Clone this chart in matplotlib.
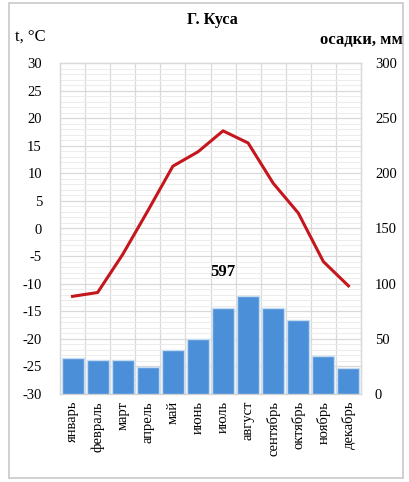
import numpy as np
import matplotlib
matplotlib.use("Agg")
import matplotlib.pyplot as plt
from matplotlib.patches import Rectangle

plt.rcParams["font.family"] = ["Liberation Serif", "DejaVu Serif"]
plt.rcParams["axes.unicode_minus"] = False

months = ["январь", "февраль", "март", "апрель", "май", "июнь",
          "июль", "август", "сентябрь", "октябрь", "ноябрь", "декабрь"]
temp = [-12.3, -11.6, -4.7, 3.2, 11.3, 13.9, 17.7, 15.5, 8.2, 2.8, -6.0, -10.4]
precip = [33, 31, 31, 24.5, 40, 50, 78, 89, 78, 67, 34, 24]
annual_precip = 597

x = np.arange(len(months))

fig = plt.figure(figsize=(4.09, 4.82), dpi=100)
# outer border of the chart area
fig.patches.append(Rectangle((9 / 409, 4 / 482), 394 / 409, 475 / 482,
                             transform=fig.transFigure, fill=False,
                             edgecolor="#c8c8c8", linewidth=1.2))

ax2 = fig.add_axes([60 / 409, 88 / 482, 301 / 409, 331 / 482])
ax = ax2.twinx()

# precipitation bars (right scale)
ax2.bar(x, precip, width=0.88, color="#4a8fd7", edgecolor="#c5dcf2",
        linewidth=1.0, zorder=3)
ax2.set_ylim(0, 300)
ax2.set_xlim(-0.5, len(months) - 0.5)
ax2.set_yticks(np.arange(0, 301, 50))
ax2.yaxis.tick_right()
ax2.set_yticks(np.arange(0, 301, 5), minor=True)
ax2.set_xticks(x)
ax2.set_xticklabels(months, rotation=90, fontsize=10.5)
ax2.set_xticks(np.arange(0.5, len(months) - 1, 1), minor=True)
ax2.grid(which="minor", axis="y", color="#ececec", linewidth=0.7, zorder=0)
ax2.grid(which="minor", axis="x", color="#d9d9d9", linewidth=0.9, zorder=0)
for lvl in np.arange(25, 300, 25):
    ax2.axhline(lvl, color="#d9d9d9", linewidth=0.9, zorder=1)
ax2.set_axisbelow(True)
ax2.tick_params(axis="both", which="both", length=0)
ax2.tick_params(axis="y", labelsize=10.5, pad=10)
ax2.tick_params(axis="x", pad=5)
ax2.text(6, 111, str(annual_precip), ha="center", va="center",
         fontsize=12, fontweight="bold", zorder=5)

# temperature line (left scale)
ax.plot(x, temp, color="#c4161c", linewidth=2.2, solid_joinstyle="round", zorder=4)
ax.set_ylim(-30, 30)
ax.set_yticks(np.arange(-30, 31, 5))
ax.yaxis.tick_left()
ax.tick_params(axis="both", which="both", length=0)
ax.tick_params(axis="y", labelsize=10.5, pad=13)
ax.patch.set_visible(False)

for a in (ax, ax2):
    for s in a.spines.values():
        s.set_color("#d9d9d9")
        s.set_linewidth(0.9)
ax.spines["bottom"].set_visible(False)
ax2.spines["bottom"].set_color("#d0d0d0")

fig.text(212 / 409, 1 - 20 / 482, "Г. Куса", ha="center", va="center",
         fontsize=11.5, fontweight="bold")
fig.text(15 / 409, 1 - 37 / 482, "t, °C", ha="left", va="center", fontsize=12)
fig.text(403 / 409, 1 - 40 / 482, "осадки, мм", ha="right", va="center",
         fontsize=12, fontweight="bold")

fig.savefig("out.png", dpi=100)
